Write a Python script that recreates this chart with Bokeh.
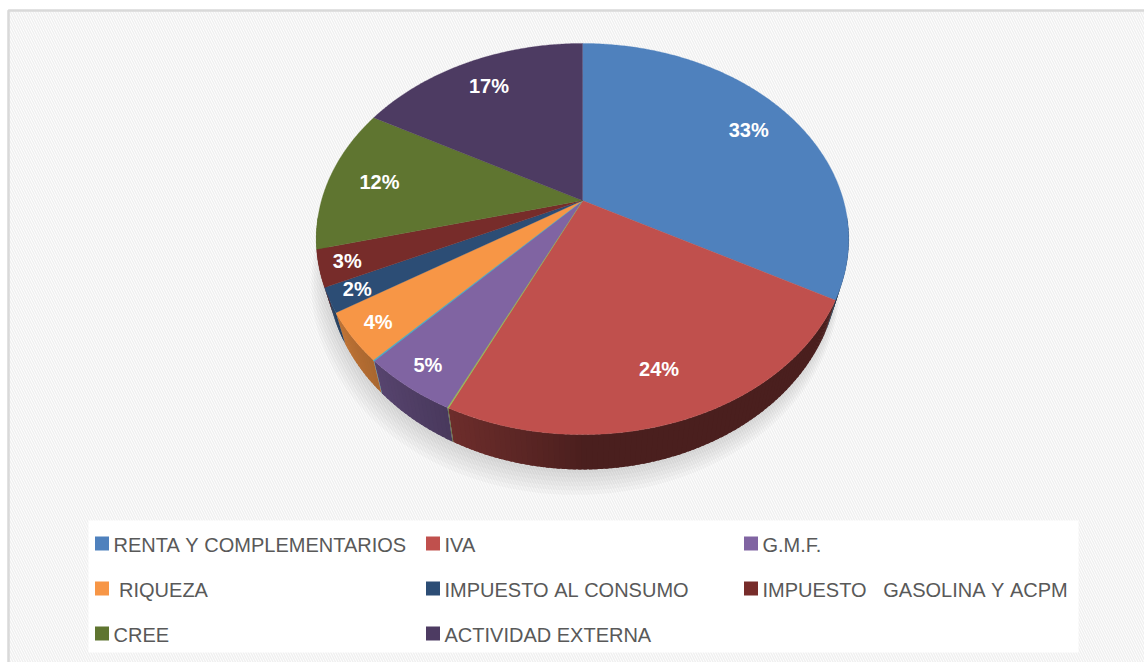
import math
from bokeh.plotting import figure
from bokeh.models import Range1d
from bokeh.embed import file_html
from bokeh.resources import INLINE
from bokeh.core.properties import value

# ---------------- data ----------------
categories = ["RENTA Y COMPLEMENTARIOS", "IVA", "", "G.M.F.", "", " RIQUEZA",
              "IMPUESTO AL CONSUMO", "IMPUESTO   GASOLINA Y ACPM", "CREE", "ACTIVIDAD EXTERNA"]
values = [33, 24, 0.05, 5, 0.05, 4, 2, 3, 12, 17]
colors = ["#4F81BD", "#C0504D", "#9BBB59", "#8064A2", "#4BACC6", "#F79646",
          "#2C4D75", "#772C2A", "#5F7530", "#4D3B62"]
legend_order = [0, 1, 3, 5, 6, 7, 8, 9]

# ---------------- geometry (style) ----------------
CX, CY = 582.0, 200.0
A, B, K = 261.0, 188.0, 0.197
D = 28.0
SHRINK = 0.962
FONT = "Liberation Sans"
W, H = 1144, 662


def proj(theta, r=1.0, drop=0.0):
    t = math.radians(theta)
    u = r * math.sin(t)
    v = r * math.cos(t)
    s = 1.0 / (1.0 + K * v)
    x = CX + A * u * s
    y = CY - B * v * s
    if drop:
        x = CX + (x - CX) * SHRINK
        y = y + drop * s
    return x, y


def shade(hexcol, f):
    h = hexcol.lstrip("#")
    r, g, b = (int(h[i:i + 2], 16) for i in (0, 2, 4))
    return "#%02x%02x%02x" % (min(255, int(r * f)), min(255, int(g * f)), min(255, int(b * f)))


total = sum(values)
starts, ends = [], []
acc = 0.0
for v in values:
    starts.append(acc / total * 360.0)
    acc += v
    ends.append(acc / total * 360.0)

p = figure(width=W, height=H, x_range=Range1d(0, W), y_range=Range1d(H, 0),
           output_backend="svg", toolbar_location=None, min_border=0)
p.axis.visible = False
p.grid.visible = False
p.outline_line_color = None
p.background_fill_color = "white"
p.border_fill_color = "white"

# background with faint diagonal texture and border
p.quad(left=8, right=1170, top=10, bottom=690, fill_color="white",
       hatch_pattern="\\", hatch_color="#f0f0f0", hatch_scale=5, hatch_weight=1.5,
       line_color="#d9d9d9", line_width=2.5)
# legend box
p.quad(left=88, right=1078, top=520, bottom=652, fill_color="white", line_color=None)

# soft shadow under pie
for i in range(6):
    xs, ys = [], []
    for a in range(0, 361, 2):
        x, y = proj(a, 1.0 + 0.006 * i, D + 3 + 2.0 * i)
        xs.append(x - 2 - i)
        ys.append(y)
    p.patch(xs, ys, fill_color="#808080", fill_alpha=0.05, line_color=None)

# side walls (front visible part)
TMIN, TMAX = 95.0, 265.0
sx, sy, sc = [], [], []
for i, (a1, a2) in enumerate(zip(starts, ends)):
    lo, hi = max(a1, TMIN), min(a2, TMAX)
    if hi <= lo:
        continue
    n = max(1, int(math.ceil((hi - lo) / 1.0)))
    for j in range(n):
        ta = lo + (hi - lo) * j / n
        tb = min(hi, lo + (hi - lo) * (j + 1) / n + 0.6)
        x1, y1 = proj(ta)
        x2, y2 = proj(tb)
        x3, y3 = proj(tb, 1.0, D)
        x4, y4 = proj(ta, 1.0, D)
        tm = (ta + tb) / 2
        f = 0.39 if tm <= 180 else 0.39 + 0.5 * ((tm - 180) / 78.0) ** 0.9
        sx.append([x1, x2, x3, x4])
        sy.append([y1, y2, y3, y4])
        sc.append(shade(colors[i], f))
p.patches(sx, sy, fill_color=sc, line_color=None)

# top surface slices
tx, ty, tc, tw = [], [], [], []
for i, (a1, a2) in enumerate(zip(starts, ends)):
    n = max(2, int(math.ceil((a2 - a1) / 0.5)))
    xs, ys = [CX], [CY]
    for j in range(n + 1):
        x, y = proj(a1 + (a2 - a1) * j / n)
        xs.append(x)
        ys.append(y)
    tx.append(xs)
    ty.append(ys)
    tc.append(colors[i])
    tw.append(1.2 if values[i] < 0.5 else 0.3)
p.patches(tx, ty, fill_color=tc, line_color=tc, line_width=tw)

# percentage labels
lx, ly, lt = [], [], []
for i, (a1, a2) in enumerate(zip(starts, ends)):
    if values[i] < 0.5:
        continue
    share = values[i] / total
    x, y = proj((a1 + a2) / 2, 0.9 if share < 0.08 else 0.8)
    lx.append(x)
    ly.append(y)
    lt.append("%d%%" % round(share * 100))
p.text(lx, ly, text=lt, text_color="white", text_font=value(FONT), text_font_style="bold",
       text_font_size="20px", text_align="center", text_baseline="middle")

# legend
col_x = [94, 425, 743]
row_y = [543, 588, 633]
mx, my, mc, gx, gy, gt = [], [], [], [], [], []
for k, idx in enumerate(legend_order):
    c, r = k % 3, k // 3
    mx.append(col_x[c] + 7.5)
    my.append(row_y[r])
    mc.append(colors[idx])
    gx.append(col_x[c] + 19)
    gy.append(row_y[r] + 1)
    gt.append(categories[idx].replace(" ", "\u00a0"))
p.rect(mx, my, width=14, height=14, fill_color=mc, line_color=None)
p.text(gx, gy, text=gt, text_color="#595959", text_font=value(FONT),
       text_font_size="20px", text_align="left", text_baseline="middle")

open("out.html", "w").write(file_html(p, INLINE))
